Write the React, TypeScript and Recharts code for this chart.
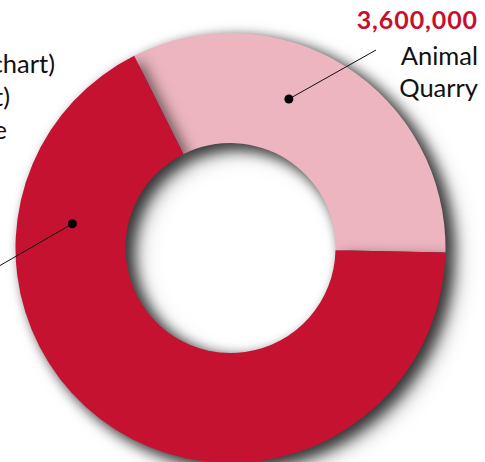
import React from 'react';
import { PieChart, Pie, Cell } from 'recharts';

// slices, counter-clockwise from 3 o'clock
const categories = ['Animal Quarry', 'Other'];
const values = [3600000, 7400000];
const numberLabels = ['3,600,000', ''];
const nameLines = [['Animal', 'Quarry'], ['chart)', 't)', 'e']];

const colors = ['#ECB5BF', '#C41230'];
const red = '#C8102E';

const data = categories.map((name, i) => ({ name, value: values[i] }));

// where each leader dot sits on the ring (degrees) and where its text block goes
const callouts = [
  { angle: 68.6, lineTo: [145.5, -198], textX: 247.5, textY: -219 },
  { angle: 171.3, lineTo: [-240, 23], textX: -175.5, textY: -175 },
];
const leftEnds = [-175.5, -220.5, -223.5];

const RAD = Math.PI / 180;

function Callout(props: any) {
  const { cx, cy, innerRadius, outerRadius, index } = props;
  const c = callouts[index];
  const r = (innerRadius + outerRadius) / 2;
  const dx = cx + r * Math.cos(c.angle * RAD);
  const dy = cy - r * Math.sin(c.angle * RAD);
  const lx = cx + c.lineTo[0];
  const ly = cy + c.lineTo[1];
  const font = 'Lato, "Noto Sans", sans-serif';

  return (
    <g>
      <line x1={dx} y1={dy} x2={lx} y2={ly} stroke="#111" strokeWidth={1} />
      <circle cx={dx} cy={dy} r={4.5} fill="#000" />
      {index === 0 ? (
        <>
          <text x={cx + c.textX} y={cy + c.textY} textAnchor="end" fill={red}
            fontFamily={font} fontWeight={700} fontSize={25} letterSpacing={0.9}>
            {numberLabels[index]}
          </text>
          {nameLines[index].map((t, k) => (
            <text key={k} x={cx + c.textX} y={cy + c.textY + 36 + k * 32} textAnchor="end"
              fill="#111" fontFamily={font} fontSize={25.5}>
              {t}
            </text>
          ))}
        </>
      ) : (
        nameLines[index].map((t, k) => (
          <text key={k} x={cx + leftEnds[k]} y={cy + c.textY + k * 33} textAnchor="end"
            fill="#111" fontFamily={font} fontSize={25.5}>
            {t}
          </text>
        ))
      )}
    </g>
  );
}

export default function App() {
  return (
    <div style={{ position: 'absolute', left: 0, top: 0, width: 485, height: 462, background: '#fff' }}>
      <style>{`.donut { filter: drop-shadow(7px 5px 7px rgba(0,0,0,0.55)); }`}</style>
      <PieChart width={485} height={462} margin={{ top: 0, right: 0, bottom: 0, left: 0 }}>
        <Pie
          className="donut"
          data={data}
          dataKey="value"
          nameKey="name"
          cx={230.5}
          cy={248}
          innerRadius={105}
          outerRadius={215}
          startAngle={-1.2}
          endAngle={358.8}
          stroke="none"
          isAnimationActive={false}
        >
          {data.map((d, i) => (
            <Cell key={d.name} fill={colors[i]} />
          ))}
        </Pie>
        <Pie
          data={data}
          dataKey="value"
          nameKey="name"
          cx={230.5}
          cy={248}
          innerRadius={105}
          outerRadius={215}
          startAngle={-1.2}
          endAngle={358.8}
          fill="transparent"
          stroke="none"
          label={Callout}
          labelLine={false}
          isAnimationActive={false}
        />
      </PieChart>
    </div>
  );
}
